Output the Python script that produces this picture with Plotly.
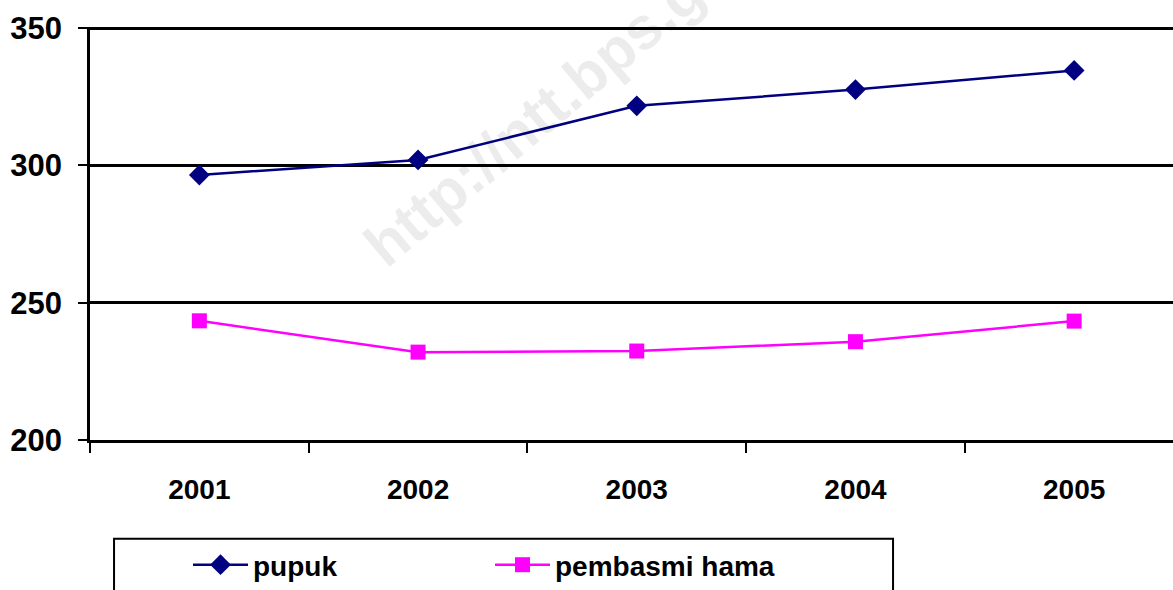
import plotly.graph_objects as go

# data
tahun = ["2001", "2002", "2003", "2004", "2005"]
pupuk = [296.5, 302.0, 321.7, 327.6, 334.6]
pembasmi_hama = [243.4, 232.0, 232.4, 235.8, 243.3]

fig = go.Figure()

fig.add_trace(go.Scatter(
    x=tahun, y=pupuk, name="pupuk", mode="lines+markers",
    line=dict(color="#000080", width=2.5),
    marker=dict(symbol="diamond", size=16, color="#000080"),
))
fig.add_trace(go.Scatter(
    x=tahun, y=pembasmi_hama, name="pembasmi hama", mode="lines+markers",
    line=dict(color="#FF00FF", width=2.5),
    marker=dict(symbol="square", size=15, color="#FF00FF"),
))

# watermark (translucent so the lines show through it)
fig.add_annotation(
    text="http://ntt.bps.go.id", xref="paper", yref="paper",
    x=0.448, y=0.86, xanchor="center", yanchor="middle",
    showarrow=False, textangle=-40,
    font=dict(family="Liberation Sans", size=60, color="rgba(0,0,0,0.075)", weight="bold"),
)

# legend frame (cut off at the bottom like the original)
fig.add_shape(type="rect", xref="paper", yref="paper",
              x0=0.0222, x1=0.7415, y0=-0.239, y1=-0.45,
              line=dict(color="black", width=2), fillcolor="white", layer="below")

fig.update_layout(
    width=1173, height=590,
    margin=dict(l=90, r=0, t=27, b=149),
    paper_bgcolor="white", plot_bgcolor="white",
    font=dict(family="Liberation Sans", color="black"),
    showlegend=True,
    legend=dict(
        orientation="h", x=0.0905, xanchor="left", y=-0.302, yanchor="middle",
        font=dict(size=28, weight="bold"), bgcolor="rgba(0,0,0,0)",
        entrywidth=232, itemwidth=55, borderwidth=0,
    ),
    xaxis=dict(
        type="category", range=[-0.5, 4.452], showgrid=False,
        showline=True, linecolor="black", linewidth=2.5,
        ticks="outside", tickson="boundaries", ticklen=10, tickwidth=2, tickcolor="black",
        tickfont=dict(size=28, weight="bold"), ticklabelstandoff=23,
    ),
    yaxis=dict(
        range=[200, 350.4], tickvals=[200, 250, 300, 350],
        showgrid=True, gridcolor="black", gridwidth=2.5, zeroline=False,
        showline=True, linecolor="black", linewidth=2.5,
        ticks="outside", ticklen=9, tickwidth=2, tickcolor="black",
        tickfont=dict(size=31, weight="bold"), ticklabelstandoff=10,
    ),
)

fig.write_html("out.html", config={"displayModeBar": False},
               post_script="document.body.style.margin='0';")
